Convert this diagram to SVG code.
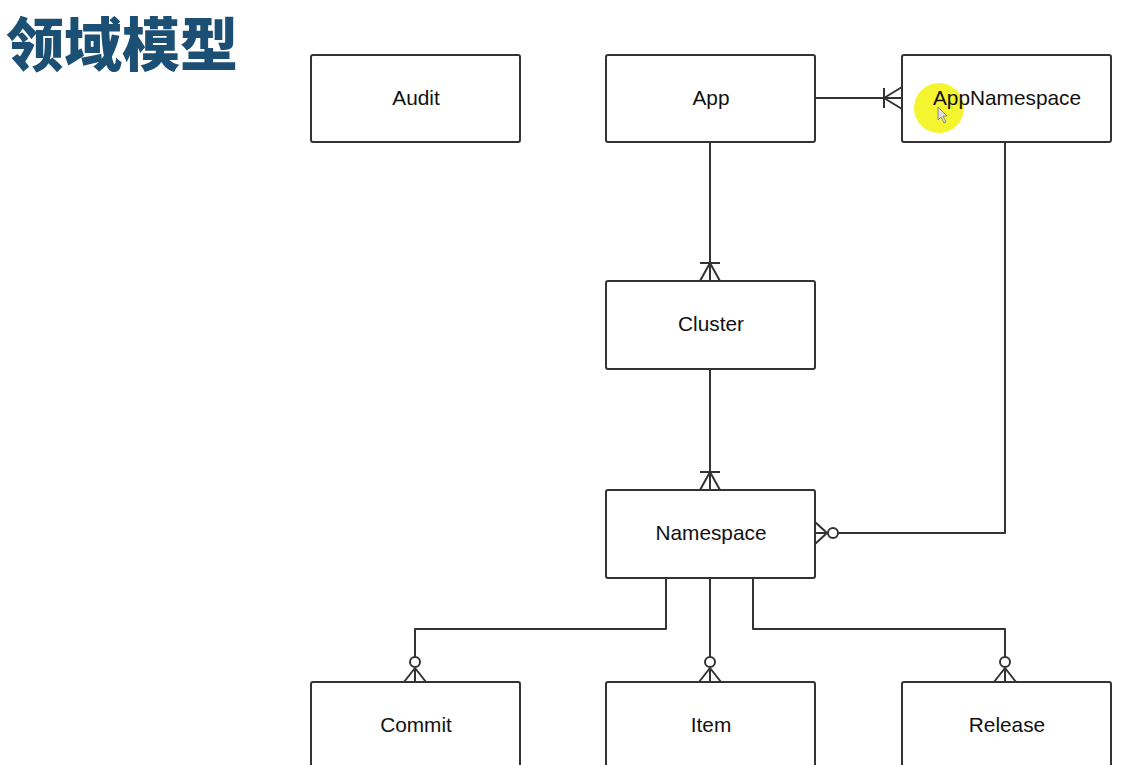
<svg xmlns="http://www.w3.org/2000/svg" width="1144" height="765" viewBox="0 0 1144 765">
<style>
.box{fill:#fff;stroke:#333;stroke-width:2;}
.lbl{font-family:"Liberation Sans",Arial,sans-serif;font-size:20.8px;fill:#111;text-anchor:middle;}
.ln{fill:none;stroke:#333;stroke-width:2;stroke-linejoin:round;}
.ci{fill:#fff;stroke:#333;stroke-width:2;}
.title{font-family:"Noto Sans CJK SC","Noto Sans CJK JP",sans-serif;font-weight:900;font-size:58px;fill:#1b4f74;}
</style>
<rect width="1144" height="765" fill="#fff"/>
<text class="title" x="6" y="66">领域模型</text>
<g id="connectors">
  <path class="ln" d="M815,98 H902 M884,88 V108 M884,98 L902,87 M884,98 L902,109"/>
  <path class="ln" d="M710,142 V281 M700,263 H720 M710,263 L700,281 M710,263 L720,281"/>
  <path class="ln" d="M710,369 V490 M700,472 H720 M710,472 L700,490 M710,472 L720,490"/>
  <path class="ln" d="M1005,142 V533 H838 M827,533 H815 M827,533 L815,522 M827,533 L815,544"/>
  <circle class="ci" cx="833" cy="533" r="5"/>
  <path class="ln" d="M666,578 V629 H415 V657 M415,668 V682 M415,668 L404,682 M415,668 L426,682"/>
  <circle class="ci" cx="415" cy="662" r="5"/>
  <path class="ln" d="M710,578 V657 M710,668 V682 M710,668 L699,682 M710,668 L721,682"/>
  <circle class="ci" cx="710" cy="662" r="5"/>
  <path class="ln" d="M753,578 V629 H1005 V657 M1005,668 V682 M1005,668 L994,682 M1005,668 L1016,682"/>
  <circle class="ci" cx="1005" cy="662" r="5"/>
</g>
<g id="audit"><rect class="box" x="311" y="55" width="209" height="87" rx="2"/><text class="lbl" x="416" y="105">Audit</text></g>
<g id="app"><rect class="box" x="606" y="55" width="209" height="87" rx="2"/><text class="lbl" x="711" y="105">App</text></g>
<g id="appnamespace"><rect class="box" x="902" y="55" width="209" height="87" rx="2"/>
  <circle cx="939" cy="108" r="25" fill="#f2f20a" opacity="0.85"/>
  <text class="lbl" x="1007" y="105">AppNamespace</text>
  <path d="M938,107 L938,120 L941,117 L944,123 L946,122 L943,116 L947,116 Z" fill="#ddd" stroke="#777" stroke-width="0.8"/>
</g>
<g id="cluster"><rect class="box" x="606" y="281" width="209" height="88" rx="2"/><text class="lbl" x="711" y="331">Cluster</text></g>
<g id="namespace"><rect class="box" x="606" y="490" width="209" height="88" rx="2"/><text class="lbl" x="711" y="540">Namespace</text></g>
<g id="commit"><rect class="box" x="311" y="682" width="209" height="88" rx="2"/><text class="lbl" x="416" y="732">Commit</text></g>
<g id="item"><rect class="box" x="606" y="682" width="209" height="88" rx="2"/><text class="lbl" x="711" y="732">Item</text></g>
<g id="release"><rect class="box" x="902" y="682" width="209" height="88" rx="2"/><text class="lbl" x="1007" y="732">Release</text></g>
</svg>
